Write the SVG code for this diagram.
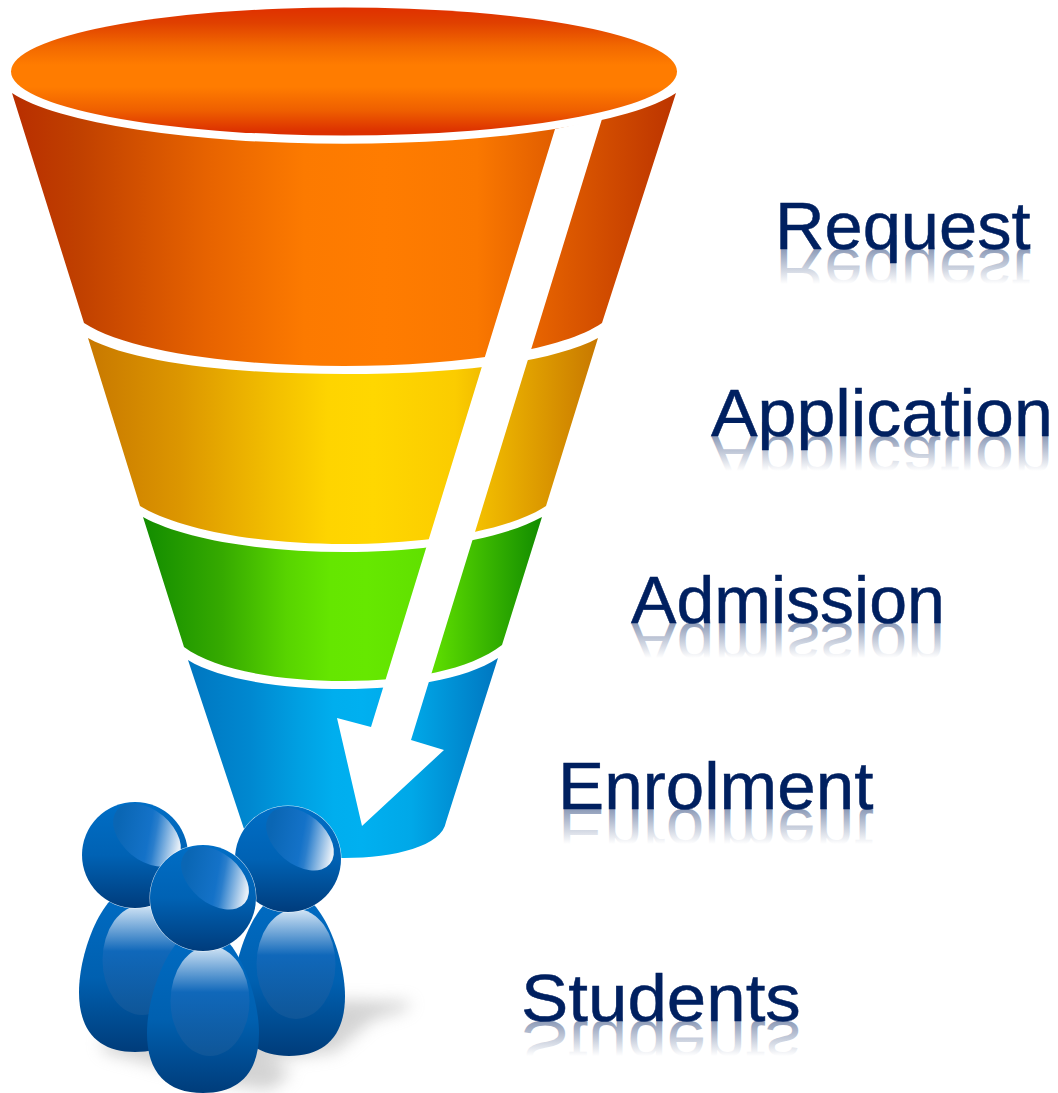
<svg xmlns="http://www.w3.org/2000/svg" xmlns:xlink="http://www.w3.org/1999/xlink" width="1058" height="1093" viewBox="0 0 1058 1093">
<style>
.lbl{font-family:"Liberation Sans",Arial,sans-serif;font-size:67px}
.main{fill:#002060;stroke:#002060;stroke-width:.5px}
.refl{fill:url(#reflGrad)}
</style>
<defs>
<linearGradient id="topGrad" x1="0" y1="0" x2="0" y2="1"><stop offset="0" stop-color="#e03000"/><stop offset=".12" stop-color="#e04000"/><stop offset=".3" stop-color="#f26800"/><stop offset=".45" stop-color="#ff7c00"/><stop offset=".62" stop-color="#ff7c00"/><stop offset=".8" stop-color="#ef6000"/><stop offset=".97" stop-color="#dc3000"/></linearGradient>
<linearGradient id="g1"><stop offset="0" stop-color="#b82e00"/><stop offset=".1" stop-color="#c04000"/><stop offset=".3" stop-color="#e86400"/><stop offset=".44" stop-color="#fc7a00"/><stop offset=".56" stop-color="#ff7c00"/><stop offset=".7" stop-color="#fa7800"/><stop offset=".84" stop-color="#dc5800"/><stop offset="1" stop-color="#bc3400"/></linearGradient>
<linearGradient id="g2"><stop offset="0" stop-color="#c87800"/><stop offset=".18" stop-color="#dc9600"/><stop offset=".36" stop-color="#f2be00"/><stop offset=".47" stop-color="#fed400"/><stop offset=".56" stop-color="#ffd700"/><stop offset=".72" stop-color="#fbcc00"/><stop offset="1" stop-color="#c87800"/></linearGradient>
<linearGradient id="g3"><stop offset="0" stop-color="#128c00"/><stop offset=".2" stop-color="#36aa00"/><stop offset=".36" stop-color="#58d400"/><stop offset=".47" stop-color="#65e600"/><stop offset=".56" stop-color="#66e800"/><stop offset=".72" stop-color="#60e000"/><stop offset="1" stop-color="#128c00"/></linearGradient>
<linearGradient id="g4"><stop offset="0" stop-color="#0076c0"/><stop offset=".2" stop-color="#0088d0"/><stop offset=".36" stop-color="#00a0e2"/><stop offset=".47" stop-color="#00aeee"/><stop offset=".56" stop-color="#00b0f0"/><stop offset=".72" stop-color="#00a8e8"/><stop offset="1" stop-color="#0076c0"/></linearGradient>
<linearGradient id="reflGrad" gradientUnits="userSpaceOnUse" x1="0" y1="0" x2="0" y2="-35"><stop offset="0" stop-color="#002060" stop-opacity=".45"/><stop offset="1" stop-color="#002060" stop-opacity="0"/></linearGradient>
<linearGradient id="headGrad" x1="0" y1="0" x2="0" y2="1"><stop offset="0" stop-color="#006ec6"/><stop offset=".5" stop-color="#0062b4"/><stop offset="1" stop-color="#003c7c"/></linearGradient>
<linearGradient id="bodyGrad" x1="0" y1="0" x2="0" y2="1"><stop offset="0" stop-color="#006cc4"/><stop offset=".55" stop-color="#0060b0"/><stop offset="1" stop-color="#003c7a"/></linearGradient>
<linearGradient id="bodyHi" x1="0" y1="0" x2="0" y2="1"><stop offset="0" stop-color="#d4e6f6"/><stop offset=".42" stop-color="#1068ba"/><stop offset="1" stop-color="#0f5698"/></linearGradient>
<linearGradient id="headHi" gradientUnits="userSpaceOnUse" x1="-14" y1="-4" x2="42" y2="-36"><stop offset="0" stop-color="#0a66b4"/><stop offset=".5" stop-color="#1472c8"/><stop offset=".6" stop-color="#2a7ecc"/><stop offset="1" stop-color="#e8f0f8"/></linearGradient>
<filter id="blur" x="-30%" y="-30%" width="160%" height="160%"><feGaussianBlur stdDeviation="8"/></filter>
<g id="person">
<path d="M0-165C32-165 56-100 56-60C56-20 36 0 0 0C-36 0-56-20-56-60C-56-100-32-165 0-165Z" fill="url(#bodyGrad)"/>
<ellipse cx="7" cy="-92" rx="39.500" ry="55" fill="url(#bodyHi)"/>
</g>
<g id="head">
<circle r="53.500" fill="#fff" fill-opacity=".8"/>
<circle r="53" fill="url(#headGrad)"/>
<ellipse cx="12" cy="-20" rx="39" ry="25" transform="rotate(40 12 -20)" fill="url(#headHi)"/>
</g>
</defs>
<rect width="1058" height="1093" fill="#fff"/>

<g id="funnel-request">
<path d="M12 93A348 72.500 0 0 0 676 93L602 323C560 352 450 366 344 366C238 366 128 352 84 323Z" fill="url(#g1)"/>
<ellipse cx="344" cy="71.500" rx="333" ry="64" fill="url(#topGrad)"/>
</g>
<g id="funnel-application">
<path d="M88 338C135 364 240 374 344 374C448 374 550 364 598 338L546 506C510 530 430 544 344 544C258 544 180 530 140 506Z" fill="url(#g2)"/>
</g>
<g id="funnel-admission">
<path d="M143 517C185 540 265 552 344 552C423 552 500 540 542 517L502 645C470 670 410 681 344 681C278 681 215 670 184 647Z" fill="url(#g3)"/>
</g>
<g id="funnel-enrolment">
<path d="M188 660C220 680 285 689 344 689C403 689 465 680 498 658L446 822C442 846 395 858 344 858C293 858 248 846 243 826Z" fill="url(#g4)"/>
</g>

<g id="connectors">
<path d="M555 129L602 119L411 740L444 750L362 826L337 718L371 727Z" fill="#fff"/>
</g>

<g id="students">
<path d="M345 1000L412 1002L405 1010L372 1020L335 1052L268 1060L292 1072L270 1090L230 1085L105 1052L100 1040Z" fill="#a8a8a8" opacity=".5" filter="url(#blur)"/>
<g id="student-left"><use href="#person" x="135" y="1052"/><use href="#head" x="135" y="855"/></g>
<g id="student-right"><use href="#person" x="289" y="1056"/><use href="#head" x="288" y="859"/></g>
<g id="student-center"><use href="#person" x="203" y="1093"/><use href="#head" x="203" y="898"/></g>
</g>

<g id="label-request" transform="translate(775 249) scale(1.024 1)"><text class="lbl main">Request</text><text class="lbl refl" transform="scale(1 -1)">Request</text></g>
<g id="label-application" transform="translate(711 436) scale(1.043 1)"><text class="lbl main">Application</text><text class="lbl refl" transform="scale(1 -1)">Application</text></g>
<g id="label-admission" transform="translate(631 623) scale(1.016 1)"><text class="lbl main">Admission</text><text class="lbl refl" transform="scale(1 -1)">Admission</text></g>
<g id="label-enrolment" transform="translate(558 809) scale(1.033 1)"><text class="lbl main">Enrolment</text><text class="lbl refl" transform="scale(1 -1)">Enrolment</text></g>
<g id="label-students" transform="translate(521 1021) scale(1.058 1)"><text class="lbl main">Students</text><text class="lbl refl" transform="scale(1 -1)">Students</text></g>
</svg>
